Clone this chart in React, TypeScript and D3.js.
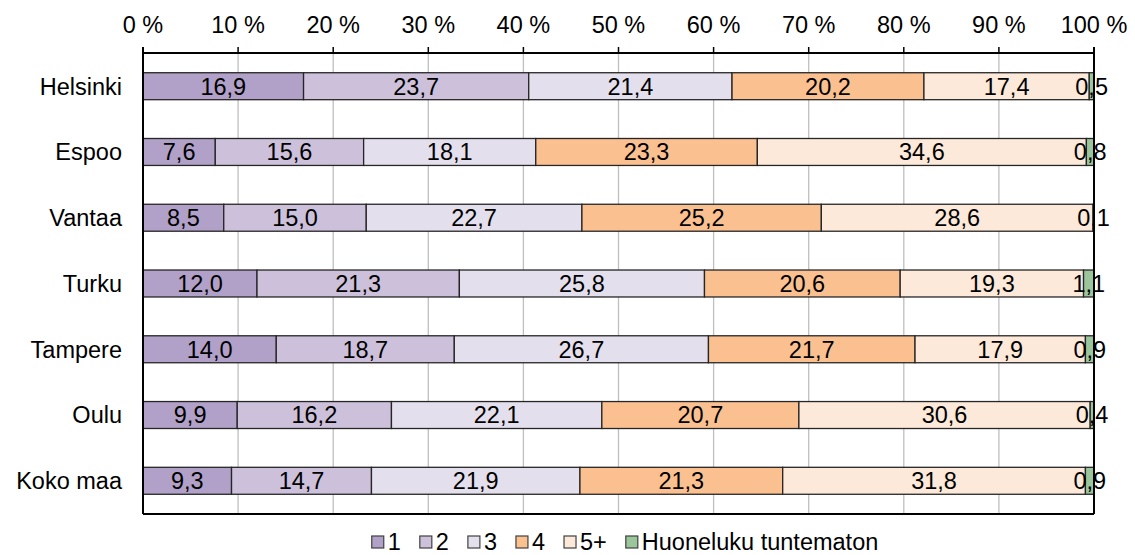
import React from "react";
import * as d3 from "d3";

const categories = ["Helsinki", "Espoo", "Vantaa", "Turku", "Tampere", "Oulu", "Koko maa"];
const seriesNames = ["1", "2", "3", "4", "5+", "Huoneluku tuntematon"];
const seriesColors = ["#b1a0c7", "#ccc0da", "#e4dfec", "#fac090", "#fde9d9", "#9bc69b"];
const s1 = [16.9, 7.6, 8.5, 12.0, 14.0, 9.9, 9.3];
const s2 = [23.7, 15.6, 15.0, 21.3, 18.7, 16.2, 14.7];
const s3 = [21.4, 18.1, 22.7, 25.8, 26.7, 22.1, 21.9];
const s4 = [20.2, 23.3, 25.2, 20.6, 21.7, 20.7, 21.3];
const s5 = [17.4, 34.6, 28.6, 19.3, 17.9, 30.6, 31.8];
const s6 = [0.5, 0.8, 0.1, 1.1, 0.9, 0.4, 0.9];
const seriesValues = [s1, s2, s3, s4, s5, s6];
const xTicks = [0, 10, 20, 30, 40, 50, 60, 70, 80, 90, 100];

const W = 1135;
const H = 555;
const FONT = "'Liberation Sans', Arial, sans-serif";
const FS = 23.5;

export default function App() {
  const left = 143, right = 1094, top = 53, bottom = 514;
  const x = d3.scaleLinear().domain([0, 100]).range([left, right]);
  const y = d3.scaleBand<string>().domain(categories).range([top, bottom]).paddingInner(0.59).paddingOuter(0.3);

  const rows = categories.map((c, i) => {
    const vals = seriesValues.map((s) => s[i]);
    const total = d3.sum(vals);
    let acc = 0;
    return vals.map((v, k) => {
      const x0 = (acc / total) * 100;
      acc += v;
      const x1 = (acc / total) * 100;
      return { cat: c, k, v, x0, x1 };
    });
  });

  const fmt = (v: number) => v.toFixed(1).replace(".", ",");

  // legend layout
  const sq = 12;
  const gapSqText = 4;
  const gapItems = 19;
  const charW = (t: string) => {
    const w: Record<string, number> = { " ": 0.278, "+": 0.584, H: 0.722, u: 0.556, o: 0.556, n: 0.556, e: 0.556, l: 0.222, k: 0.5, t: 0.278, m: 0.833, a: 0.556 };
    return t.split("").reduce((s, ch) => s + (w[ch] ?? 0.556), 0) * FS;
  };
  const itemW = seriesNames.map((n) => sq + gapSqText + charW(n));
  const totalLegend = d3.sum(itemW) + gapItems * (seriesNames.length - 1);
  let lx = 625 - totalLegend / 2;
  const legendItems = seriesNames.map((n, i) => {
    const item = { n, i, x: lx };
    lx += itemW[i] + gapItems;
    return item;
  });
  const ly = 542;

  return (
    <svg width={W} height={H} style={{ position: "absolute", left: 0, top: 0, background: "#fff" }} fontFamily={FONT}>
      {/* gridlines */}
      {xTicks.slice(1, -1).map((t) => (
        <line key={"g" + t} x1={x(t)} x2={x(t)} y1={top} y2={bottom} stroke="#bfbfbf" strokeWidth={1.3} />
      ))}
      {/* bars */}
      {rows.map((segs) =>
        segs.map((s) => (
          <rect
            key={s.cat + s.k}
            x={x(s.x0)}
            y={y(s.cat)!}
            width={x(s.x1) - x(s.x0)}
            height={y.bandwidth()}
            fill={seriesColors[s.k]}
            stroke="#262626"
            strokeWidth={1.3}
          />
        ))
      )}
      {/* frame */}
      <line x1={left} x2={right} y1={top} y2={top} stroke="#000" strokeWidth={2} />
      <line x1={left} x2={right} y1={bottom} y2={bottom} stroke="#000" strokeWidth={2} />
      <line x1={left} x2={left} y1={top - 6} y2={bottom} stroke="#000" strokeWidth={2} />
      <line x1={right} x2={right} y1={top - 6} y2={bottom} stroke="#000" strokeWidth={2} />
      {xTicks.map((t) => (
        <line key={"t" + t} x1={x(t)} x2={x(t)} y1={top - 6} y2={top} stroke="#000" strokeWidth={1.5} />
      ))}
      {/* tick labels */}
      {xTicks.map((t) => (
        <text key={"l" + t} x={x(t)} y={33} textAnchor="middle" fontSize={FS} fill="#000">
          {t + " %"}
        </text>
      ))}
      {/* category labels */}
      {categories.map((c) => (
        <text key={"c" + c} x={122} y={y(c)! + y.bandwidth() / 2} dy="0.36em" textAnchor="end" fontSize={FS} fill="#000">
          {c}
        </text>
      ))}
      {/* data labels */}
      {rows.map((segs) =>
        segs.map((s) => (
          <text
            key={"d" + s.cat + s.k}
            x={(x(s.x0) + x(s.x1)) / 2}
            y={y(s.cat)! + y.bandwidth() / 2}
            dy="0.36em"
            textAnchor="middle"
            fontSize={FS}
            fill="#000"
          >
            {fmt(s.v)}
          </text>
        ))
      )}
      {/* legend */}
      {legendItems.map((it) => (
        <g key={"lg" + it.i}>
          <rect x={it.x} y={ly - sq / 2} width={sq} height={sq} fill={seriesColors[it.i]} stroke="#404040" strokeWidth={1.2} />
          <text x={it.x + sq + gapSqText} y={ly} dy="0.36em" fontSize={FS} fill="#000">
            {it.n}
          </text>
        </g>
      ))}
    </svg>
  );
}
